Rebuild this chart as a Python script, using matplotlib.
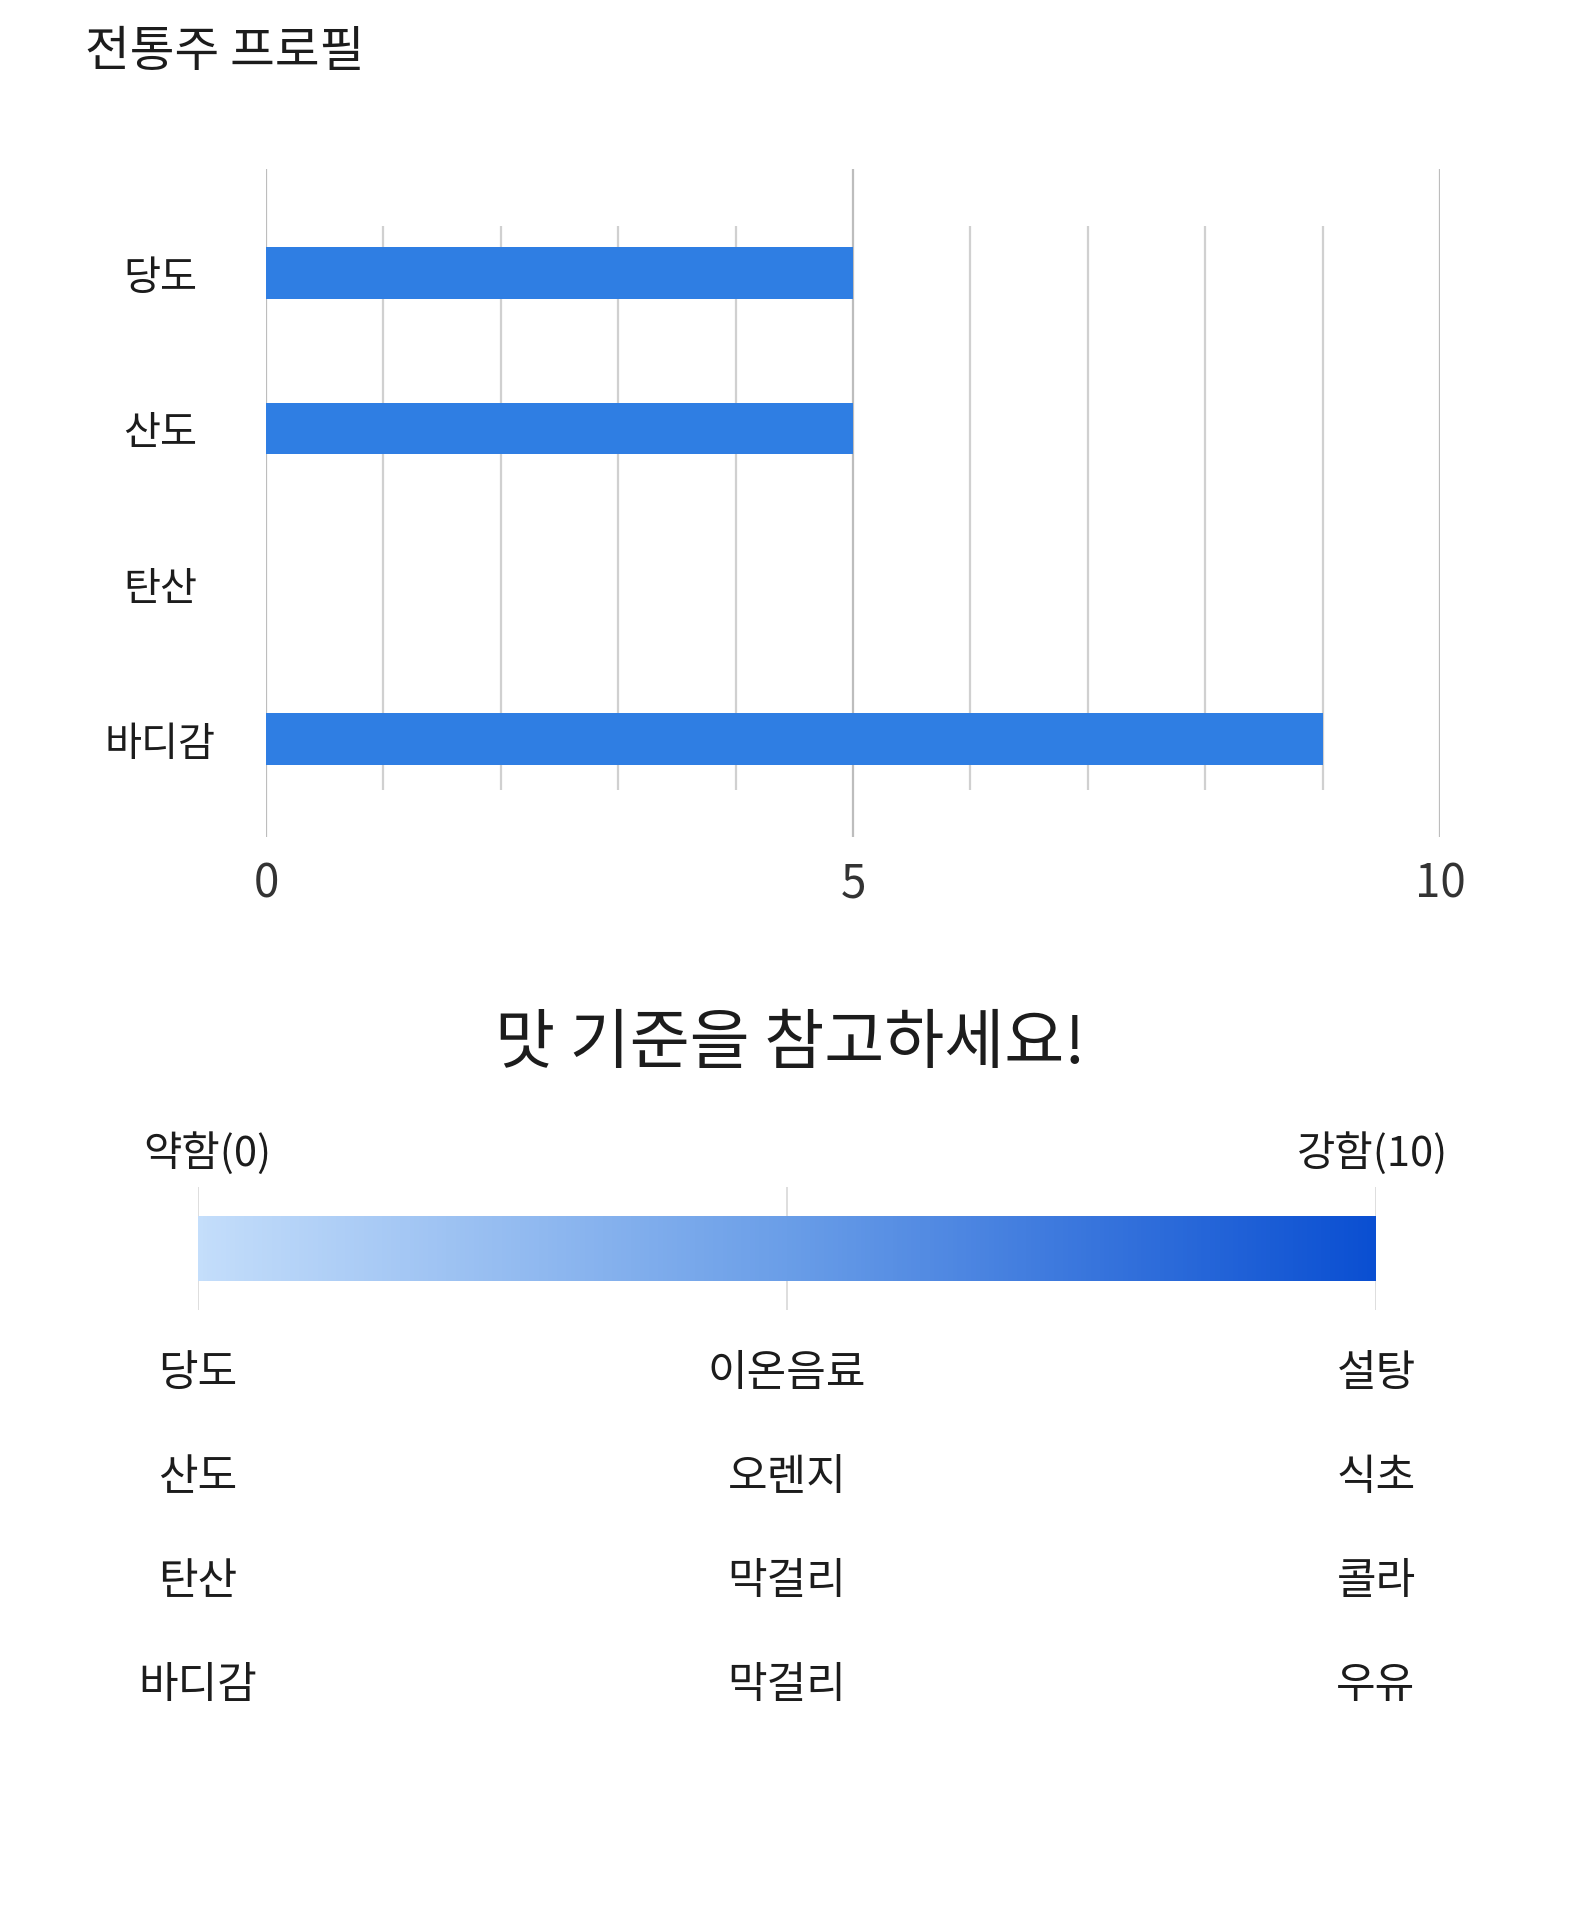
import numpy as np
import matplotlib
matplotlib.use('Agg')
import matplotlib.pyplot as plt
from matplotlib.colors import LinearSegmentedColormap

plt.rcParams['font.family'] = ['Noto Sans CJK KR', 'DejaVu Sans']

# 데이터
categories = ['당도', '산도', '탄산', '바디감']
values = [5, 5, 0, 9]
x_ticks = [0, 5, 10]
minor_ticks = [1, 2, 3, 4, 6, 7, 8, 9]

scale_left = '약함(0)'
scale_right = '강함(10)'
ref_rows = ['당도', '산도', '탄산', '바디감']
ref_mid = ['이온음료', '오렌지', '막걸리', '막걸리']
ref_high = ['설탕', '식초', '콜라', '우유']

W, H = 1581, 1906
fig = plt.figure(figsize=(W / 100, H / 100), dpi=100)
fig.patch.set_facecolor('white')

def fx(px):
    return px / W

def fy(py):
    return 1 - py / H

txt = '#1c1c1c'

fig.text(fx(85), fy(52), '전통주 프로필', fontsize=35, color=txt, ha='left', va='center')

# 위 막대 그래프
ax = fig.add_axes([fx(266), fy(838), fx(1440) - fx(266), fy(170) - fy(838)])
y = np.arange(len(categories))
ax.set_xlim(0, 10)
ax.set_ylim(3.63, -0.67)
for t in x_ticks:
    ax.axvline(t, color='#bdbdbd', lw=1.6, zorder=0)
ax.vlines(minor_ticks, -0.3, 3.33, color='#d0d0d0', lw=1.6, zorder=0)
ax.barh(y, values, height=0.33, color='#2f7ee3', zorder=2)
ax.set_xticks(x_ticks)
ax.set_xticklabels([str(t) for t in x_ticks])
ax.set_yticks(y)
ax.set_yticklabels(categories, ha='center')
ax.tick_params(axis='x', length=0, pad=16, labelsize=33, labelcolor='#333333')
ax.tick_params(axis='y', length=0, pad=76, labelsize=29, labelcolor=txt)
for s in ax.spines.values():
    s.set_visible(False)

# 아래 기준표
fig.text(fx(790), fy(1045), '맛 기준을 참고하세요!', fontsize=47, color=txt, ha='center', va='center')

ax2 = fig.add_axes([fx(198), fy(1720), fx(1376) - fx(198), fy(1120) - fy(1720)])
ax2.set_xlim(0, 10)
ax2.set_ylim(3.33, -2.44)
ax2.axis('off')

cmap = LinearSegmentedColormap.from_list('taste', ['#c4defb', '#6a9ee8', '#0a4fd2'])
grad = np.linspace(0, 1, 256)[None, :]
ax2.imshow(grad, extent=[0, 10, -0.88, -1.5], cmap=cmap, aspect='auto', zorder=1)
ax2.vlines([0, 5, 10], -1.79, -0.6, color='#d8d8d8', lw=1.2, zorder=0)
ax2.text(0.08, -2.12, scale_left, fontsize=30, color=txt, ha='center', va='center')
ax2.text(9.97, -2.12, scale_right, fontsize=30, color=txt, ha='center', va='center')

for i in range(len(ref_rows)):
    ax2.text(0, i, ref_rows[i], fontsize=31, color=txt, ha='center', va='center')
    ax2.text(5, i, ref_mid[i], fontsize=31, color=txt, ha='center', va='center')
    ax2.text(10, i, ref_high[i], fontsize=31, color=txt, ha='center', va='center')

fig.savefig('out.png', dpi=100, facecolor='white')
